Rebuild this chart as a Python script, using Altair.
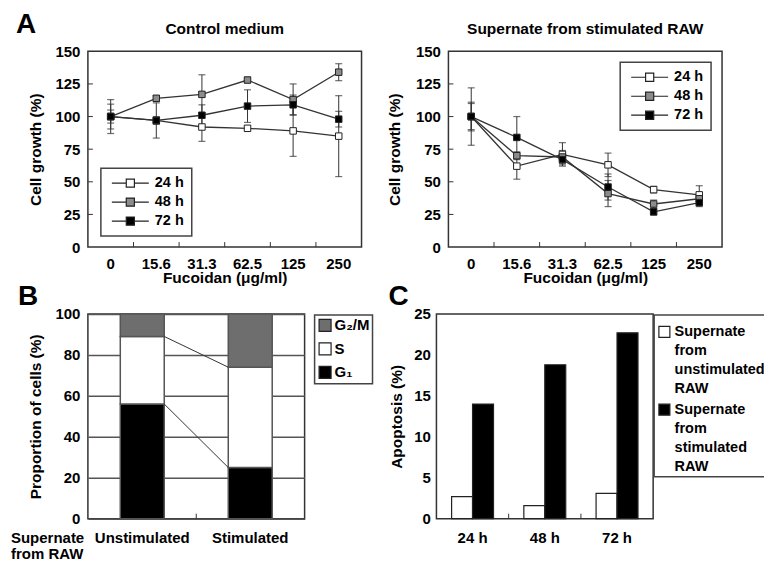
import altair as alt
import pandas as pd

FONT = "Liberation Sans"
INK = "#333333"

# ---------------- data ----------------
doses = ["0", "15.6", "31.3", "62.5", "125", "250"]
times = ["24 h", "48 h", "72 h"]
time_fill = ["white", "#8c8c8c", "black"]
growth_ticks = [0, 25, 50, 75, 100, 125, 150]

ctrl_24 = [100, 97, 92, 91, 89, 85]
ctrl_24_err = [5, 3, 11, 2, 19.5, 31]
ctrl_48 = [100, 114, 117, 128, 113, 134]
ctrl_48_err = [9.5, 2, 15, 2, 12, 6.5]
ctrl_72 = [100, 97, 101, 108, 109, 98]
ctrl_72_err = [13, 13.5, 8, 12.5, 7.5, 6]

stim_24 = [100, 62, 71, 63, 44, 40]
stim_24_err = [22, 10, 9, 9, 2.5, 7]
stim_48 = [100, 70, 69, 41, 33, 37]
stim_48_err = [11, 3, 5, 10, 3, 3]
stim_72 = [100, 84, 67, 46, 27, 34]
stim_72_err = [10, 16, 4, 10, 2.5, 3]

supernates = ["Unstimulated", "Stimulated"]
phases = ["G\u2082/M", "S", "G\u2081"]
phase_fill = ["#6e6e6e", "white", "black"]
g1 = [56, 25]
s_phase = [33, 49]
g2m = [11, 26]
prop_ticks = [0, 20, 40, 60, 80, 100]

apop_groups = ["Supernate from unstimulated RAW", "Supernate from stimulated RAW"]
apop_fill = ["white", "black"]
apop_unstim = [2.7, 1.6, 3.1]
apop_stim = [14.0, 18.8, 22.7]
apop_ticks = [0, 5, 10, 15, 20, 25]


def growth_frame(series_vals, series_errs):
    rows = []
    for t, vals, errs in zip(times, series_vals, series_errs):
        for d, v, e in zip(doses, vals, errs):
            rows.append({"dose": d, "time": t, "value": v, "err": e})
    return pd.DataFrame(rows)


ctrl_df = growth_frame([ctrl_24, ctrl_48, ctrl_72], [ctrl_24_err, ctrl_48_err, ctrl_72_err])
stim_df = growth_frame([stim_24, stim_48, stim_72], [stim_24_err, stim_48_err, stim_72_err])

W_A, H_A = 274, 196
W_B, H_B = 217, 205
W_C, H_C = 217, 205
LEG_PATH = "M-1,0H-0.22M0.22,0H1M-0.22,-0.22H0.22V0.22H-0.22Z"


def text_layer(txt, x, y, size, align="left", baseline="alphabetic", **kw):
    return alt.Chart(pd.DataFrame({"t": [txt]})).mark_text(
        align=align, baseline=baseline, font=FONT, fontSize=size, fontWeight="bold", color="black", **kw
    ).encode(text="t:N", x=alt.value(x), y=alt.value(y))


def growth_panel(df, title, lx, ly, ytp, letter=None):
    xs = alt.Scale(type="band", domain=doses, paddingInner=0, paddingOuter=0)
    xa = alt.Axis(title="Fucoidan (\u03bcg/ml)", labelAngle=0, labelPadding=9, titlePadding=-1)
    ys = alt.Scale(domain=[0, 150], nice=False)
    ya = alt.Axis(values=growth_ticks, title="Cell growth (%)", labelPadding=8, titlePadding=ytp)

    def X(**kw):
        return alt.X("dose:N", scale=xs, axis=xa, **kw)

    def Y(f):
        return alt.Y(f, scale=ys, axis=ya)

    base = alt.Chart(df).transform_calculate(
        lo="datum.value - datum.err", hi="datum.value + datum.err"
    )
    err = base.mark_rule(color=INK, strokeWidth=1).encode(x=X(), y=Y("lo:Q"), y2="hi:Q")
    cap_lo = base.mark_tick(color=INK, size=7, thickness=1.2).encode(x=X(), y=Y("lo:Q"))
    cap_hi = base.mark_tick(color=INK, size=7, thickness=1.2).encode(x=X(), y=Y("hi:Q"))
    line = base.mark_line(color=INK, strokeWidth=1.3).encode(x=X(), y=Y("value:Q"), detail="time:N")
    leg = alt.Legend(
        title=None, orient="none", legendX=lx, legendY=ly,
        symbolType=LEG_PATH, symbolSize=1369, symbolStrokeColor="#222", symbolStrokeWidth=1.2,
        clipHeight=16, rowPadding=3, padding=7, symbolOffset=3, labelOffset=5,
        labelFontSize=14.5, strokeColor="#444", fillColor="white",
    )
    pts = base.mark_point(
        shape="square", filled=True, size=42, stroke="#222", strokeWidth=1, opacity=1
    ).encode(
        x=X(), y=Y("value:Q"),
        fill=alt.Fill("time:N", scale=alt.Scale(domain=times, range=time_fill), legend=leg),
    )
    ytk = alt.Chart(pd.DataFrame({"v": growth_ticks[1:-1]})).mark_rule(color=INK, strokeWidth=1).encode(
        y=Y("v:Q"), x=alt.value(0), x2=alt.value(5)
    )
    xtk = alt.Chart(pd.DataFrame({"dose": doses[1:]})).mark_rule(color=INK, strokeWidth=1).encode(
        x=X(bandPosition=0), y=alt.value(H_A - 5), y2=alt.value(H_A)
    )
    layers = [xtk, ytk, err, cap_lo, cap_hi, line, pts,
              text_layer(title, W_A / 2, -17, 15.5, align="center")]
    if letter is not None:
        layers.append(text_layer(letter, -72, -18, 28))
    return alt.layer(*layers).properties(width=W_A, height=H_A)


panel_a1 = growth_panel(ctrl_df, "Control medium", 13, 117, 11, letter="A")
panel_a2 = growth_panel(stim_df, "Supernate from stimulated RAW", 172, 11, 13)

# ---------------- panel B ----------------
b_rows = []
for i, sup in enumerate(supernates):
    acc = 0
    for ph, arr in (("G\u2081", g1), ("S", s_phase), ("G\u2082/M", g2m)):
        b_rows.append({"sup": sup, "phase": ph, "bottom": acc, "top": acc + arr[i]})
        acc += arr[i]
b_df = pd.DataFrame(b_rows)
link_df = pd.DataFrame({
    "a": [supernates[0]] * 2, "b": [supernates[1]] * 2,
    "ya": [g1[0], g1[0] + s_phase[0]], "yb": [g1[1], g1[1] + s_phase[1]],
})

xsB = alt.Scale(domain=supernates, paddingInner=0.593, paddingOuter=0.3)
xaB = alt.Axis(title=None, labelAngle=0, labelPadding=12, labelFontSize=15)
ysB = alt.Scale(domain=[0, 100], nice=False)
yaB = alt.Axis(values=prop_ticks, title="Proportion of cells (%)", grid=True, gridColor="#555",
               gridWidth=1.5, labelPadding=8, titlePadding=11)
legB = alt.Legend(
    title=None, orient="none", legendX=227, legendY=1, symbolType="square", symbolSize=144,
    symbolStrokeColor="#222", symbolStrokeWidth=1.2, padding=3, labelOffset=2, rowPadding=6.5,
    labelFontSize=15, strokeColor="#444", fillColor="white",
)
bars_b = alt.Chart(b_df).mark_bar(stroke="#555", strokeWidth=1.5).encode(
    x=alt.X("sup:N", scale=xsB, axis=xaB),
    y=alt.Y("top:Q", scale=ysB, axis=yaB), y2="bottom:Q",
    fill=alt.Fill("phase:N", scale=alt.Scale(domain=phases, range=phase_fill), legend=legB),
)
links_b = alt.Chart(link_df).mark_rule(color=INK, strokeWidth=1).encode(
    x=alt.X("a:N", scale=xsB, axis=xaB, bandPosition=1), x2=alt.X2("b:N", bandPosition=0),
    y=alt.Y("ya:Q", scale=ysB, axis=yaB), y2="yb:Q",
)
tick_b = alt.Chart(pd.DataFrame({"k": [0]})).mark_rule(color=INK, strokeWidth=1).encode(
    x=alt.value(W_B / 2), y=alt.value(H_B - 5), y2=alt.value(H_B)
)
panel_b = alt.layer(
    bars_b, links_b, tick_b,
    text_layer("Supernate\nfrom RAW", -77, H_B + 12, 15, baseline="top", lineBreak="\n", lineHeight=16),
    text_layer("B", -70, -9, 28),
).properties(width=W_B, height=H_B)

# ---------------- panel C ----------------
c_rows = []
for i, t in enumerate(times):
    c_rows.append({"time": t, "group": apop_groups[0], "value": apop_unstim[i]})
    c_rows.append({"time": t, "group": apop_groups[1], "value": apop_stim[i]})
c_df = pd.DataFrame(c_rows)
legC = alt.Legend(
    title=None, orient="none", legendX=218, legendY=1, labelExpr="split(datum.label, ' ')",
    labelBaseline="top", symbolType="M-1,0.2H1V2.2H-1Z", symbolSize=121,
    symbolStrokeColor="#222", symbolStrokeWidth=1.2, padding=3, labelOffset=3, rowPadding=0,
    labelFontSize=14.5, labelLimit=200, strokeColor="#444", fillColor="white",
)
bars_c = alt.Chart(c_df).mark_bar(stroke="#222", strokeWidth=1.2).encode(
    x=alt.X("time:N", scale=alt.Scale(domain=times, paddingInner=0.42, paddingOuter=0.21),
            axis=alt.Axis(title=None, labelAngle=0, labelPadding=12, labelFontSize=15)),
    xOffset=alt.XOffset("group:N", scale=alt.Scale(domain=apop_groups, paddingInner=0, paddingOuter=0)),
    y=alt.Y("value:Q", scale=alt.Scale(domain=[0, 25], nice=False),
            axis=alt.Axis(values=apop_ticks, title="Apoptosis (%)", labelPadding=6, titlePadding=9)),
    fill=alt.Fill("group:N", scale=alt.Scale(domain=apop_groups, range=apop_fill), legend=legC),
)
tick_c1 = alt.Chart(pd.DataFrame({"k": [0]})).mark_rule(color=INK, strokeWidth=1).encode(
    x=alt.value(W_C / 3), y=alt.value(H_C - 5), y2=alt.value(H_C)
)
tick_c2 = alt.Chart(pd.DataFrame({"k": [0]})).mark_rule(color=INK, strokeWidth=1).encode(
    x=alt.value(2 * W_C / 3), y=alt.value(H_C - 5), y2=alt.value(H_C)
)
panel_c = alt.layer(bars_c, tick_c1, tick_c2, text_layer("C", -48, -9, 28)).properties(
    width=W_C, height=H_C
)

row1 = alt.hconcat(panel_a1, panel_a2, spacing=87, bounds="flush").resolve_scale(
    fill="independent").resolve_legend(fill="independent")
row2 = alt.hconcat(panel_b, panel_c, spacing=132, bounds="flush").resolve_scale(
    fill="independent").resolve_legend(fill="independent")

chart = (
    alt.vconcat(row1, row2, spacing=-5)
    .resolve_scale(fill="independent")
    .resolve_legend(fill="independent")
    .properties(padding={"left": 2, "top": 2, "right": -6, "bottom": -2})
    .configure(font=FONT, style={"guide-label": {"lineHeight": 19}})
    .configure_axis(
        labelFont=FONT, labelFontSize=15, labelFontWeight="bold", labelColor="black",
        titleFont=FONT, titleFontSize=15.5, titleFontWeight="bold", titleColor="black",
        domain=False, ticks=False, grid=False,
    )
    .configure_legend(labelFont=FONT, labelFontWeight="bold", labelColor="black", strokeWidth=1.5)
    .configure_view(stroke=INK, strokeWidth=1.5)
)

chart.save("out.html", embed_options={"renderer": "svg", "actions": False})
